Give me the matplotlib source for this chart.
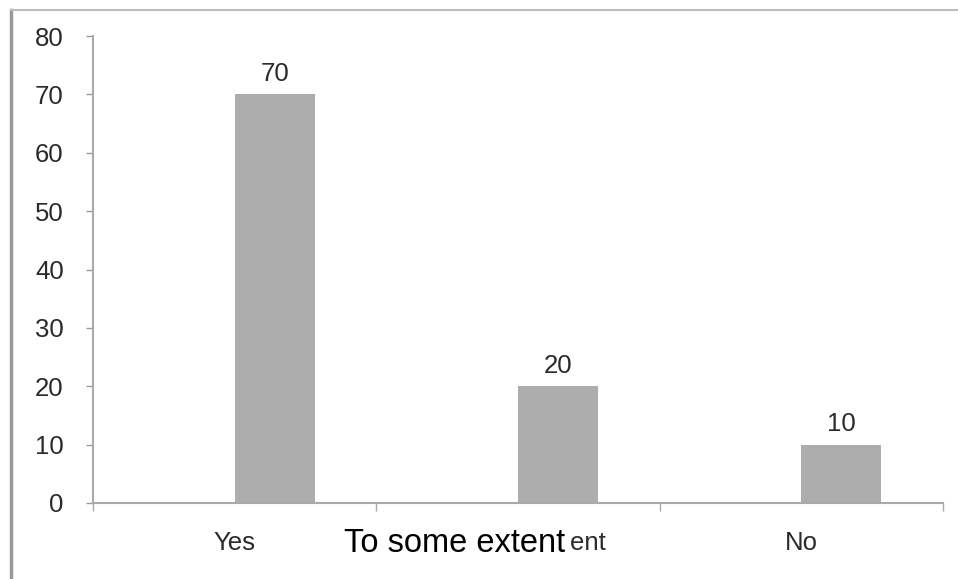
import matplotlib
matplotlib.use("Agg")
import matplotlib.pyplot as plt
from matplotlib.patches import Rectangle
from matplotlib.lines import Line2D

categories = ["Yes", "To some extent", "No"]
values = [70, 20, 10]
y_ticks = [0, 10, 20, 30, 40, 50, 60, 70, 80]

W, H = 958, 579
plt.rcParams["font.family"] = ["Liberation Sans", "DejaVu Sans"]
fig = plt.figure(figsize=(W / 100, H / 100), dpi=100)

def fx(px):
    return px / W

def fy(py):
    return 1 - py / H

ax = fig.add_axes([fx(93), fy(503), fx(943) - fx(93), fy(36) - fy(503)])

x = list(range(len(categories)))
ax.bar(x, values, width=0.282, align="edge", color="#adadad", edgecolor="none", zorder=2)

for xi, v in zip(x, values):
    ax.text(xi + 0.141, v + 2.3, str(v), ha="center", va="baseline",
            fontsize=18.5, color="#2a2a2a")

ax.set_xlim(-0.5, 2.5)
ax.set_ylim(0, 80)
ax.set_yticks(y_ticks)
ax.set_yticklabels([str(t) for t in y_ticks], fontsize=18.5, color="#2a2a2a")
ax.tick_params(axis="y", length=5, width=1, color="#999999", pad=16)

ax.set_xticks(x)
ax.set_xticklabels(categories, fontsize=18.5, color="#2a2a2a")
ax.tick_params(axis="x", which="major", length=0, pad=20)
ax.set_xticks([-0.5, 0.5, 1.5, 2.5], minor=True)
ax.tick_params(axis="x", which="minor", length=6, width=1, color="#aaaaaa")

for side in ("top", "right"):
    ax.spines[side].set_visible(False)
for side in ("left", "bottom"):
    ax.spines[side].set_color("#aaaaaa")
    ax.spines[side].set_linewidth(1.5)

# outer frame lines
fig.add_artist(Line2D([fx(11), fx(11)], [fy(10), 0], color="#9a9a9a", lw=2.5,
                      transform=fig.transFigure))
fig.add_artist(Line2D([fx(11), 1], [fy(10), fy(10)], color="#bdbdbd", lw=1.5,
                      transform=fig.transFigure))

# replacement caption over the middle category label
fig.add_artist(Rectangle((fx(336), fy(574)), fx(571) - fx(336), fy(518) - fy(574),
                         facecolor="white", edgecolor="none",
                         transform=fig.transFigure, zorder=5))
fig.text(fx(344), fy(552), "To some extent", ha="left", va="baseline",
         fontsize=23.5, color="black", zorder=6)

fig.savefig("out.png", dpi=100, facecolor="white")
